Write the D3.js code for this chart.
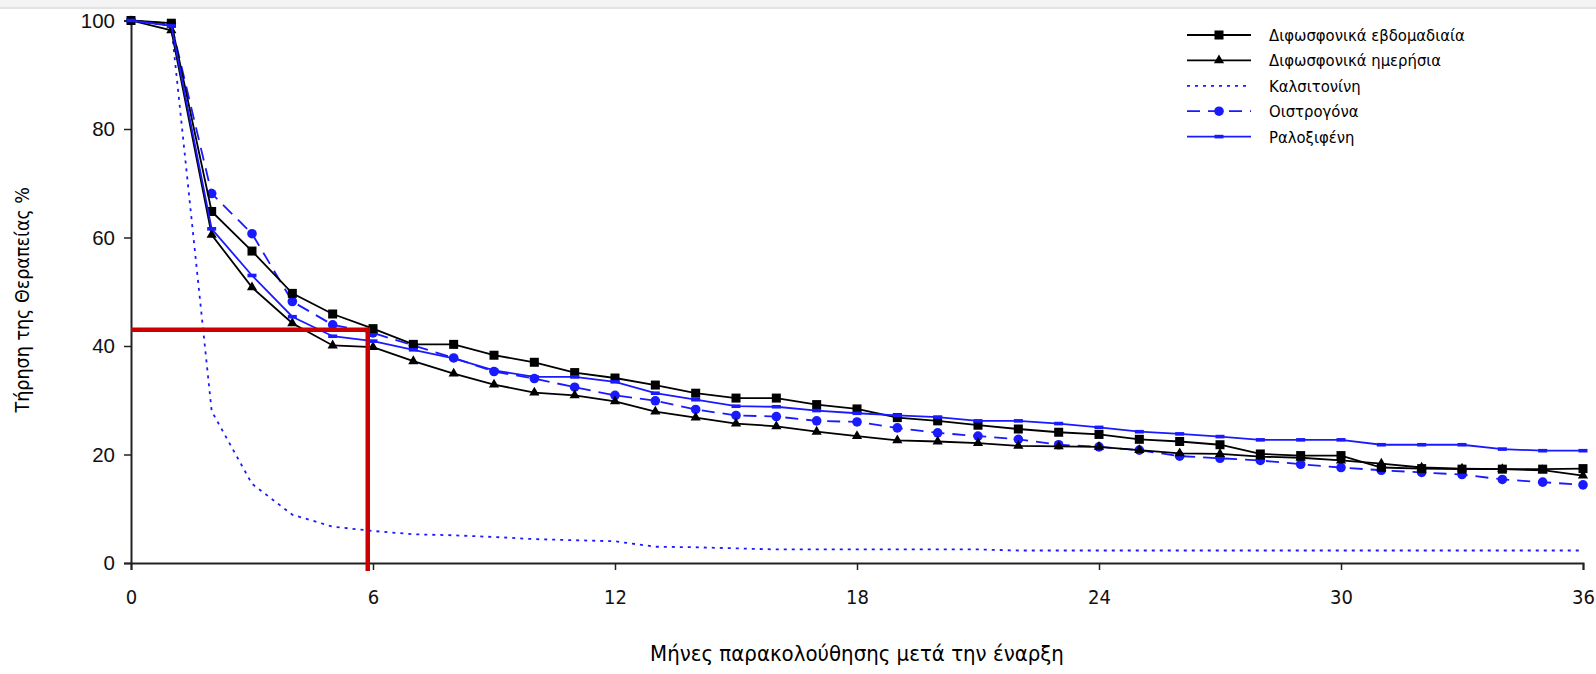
<!DOCTYPE html>
<html>
<head>
<meta charset="utf-8">
<script src="https://cdn.jsdelivr.net/npm/d3@7"></script>
<style>
  body { margin: 0; background: #fff; }
  svg { display: block; }
</style>
</head>
<body>
<script>
// months 0..36
var months = d3.range(0, 37);

var weekly = [100, 99.5, 64.8, 57.5, 49.7, 45.9, 43.2, 40.3, 40.3, 38.3, 37.0, 35.1, 34.1, 32.8, 31.3, 30.4, 30.4, 29.2, 28.4, 26.8, 26.2, 25.4, 24.7, 24.1, 23.7, 22.8, 22.4, 21.8, 20.1, 19.8, 19.8, 17.6, 17.4, 17.3, 17.3, 17.3, 17.4];
var daily = [100, 98.2, 60.5, 50.8, 44.2, 40.1, 39.8, 37.2, 34.9, 32.9, 31.4, 30.9, 29.8, 27.9, 26.8, 25.7, 25.2, 24.2, 23.4, 22.6, 22.4, 22.1, 21.6, 21.5, 21.4, 20.8, 20.2, 20.1, 19.6, 19.4, 18.9, 18.3, 17.6, 17.4, 17.3, 17.1, 16.1];
var calcitonin = [100, 99.0, 28.0, 14.6, 8.9, 6.7, 5.9, 5.3, 5.1, 4.8, 4.4, 4.2, 4.0, 3.0, 2.9, 2.7, 2.5, 2.5, 2.5, 2.5, 2.5, 2.5, 2.3, 2.3, 2.3, 2.3, 2.3, 2.3, 2.3, 2.3, 2.3, 2.3, 2.3, 2.3, 2.3, 2.3, 2.3];
var estrogen = [100, 99.4, 68.1, 60.7, 48.2, 43.9, 42.4, 40.1, 37.8, 35.3, 34.0, 32.4, 30.9, 29.9, 28.3, 27.2, 27.0, 26.2, 26.0, 24.9, 24.0, 23.4, 22.8, 21.8, 21.4, 20.8, 19.7, 19.3, 18.9, 18.2, 17.6, 17.1, 16.7, 16.3, 15.4, 14.9, 14.4];
var raloxifene = [100, 99.0, 61.6, 53.0, 45.4, 41.8, 40.9, 39.3, 37.7, 35.5, 34.3, 34.3, 33.4, 31.3, 30.1, 28.9, 28.8, 28.1, 27.6, 27.2, 26.9, 26.2, 26.2, 25.7, 25.0, 24.2, 23.8, 23.3, 22.7, 22.7, 22.7, 21.8, 21.8, 21.8, 21.0, 20.7, 20.7];

var seriesNames = ['Διφωσφονικά εβδομαδιαία', 'Διφωσφονικά ημερήσια', 'Καλσιτονίνη', 'Οιστρογόνα', 'Ραλοξιφένη'];
var xTicks = [0, 6, 12, 18, 24, 30, 36];
var yTicks = [0, 20, 40, 60, 80, 100];
// hand-drawn red guide (approx. 6 months, 43%)
var markMonth = 5.87, markValue = 43;

var series = [
    { name: seriesNames[0], values: weekly, color: '#000', dash: null, marker: 'square' },
    { name: seriesNames[1], values: daily, color: '#000', dash: null, marker: 'triangle' },
    { name: seriesNames[2], values: calcitonin, color: '#1a1aff', dash: '3,5', marker: 'none' },
    { name: seriesNames[3], values: estrogen, color: '#1a1aff', dash: '13,8', marker: 'circle' },
    { name: seriesNames[4], values: raloxifene, color: '#1a1aff', dash: null, marker: 'bar' }
];

var svgWidth = 1596, svgHeight = 674;
var titleFont = 'DejaVu Sans Condensed, DejaVu Sans, sans-serif';

var xScale = d3.scaleLinear().domain([0, 36]).range([131, 1583]);
var yScale = d3.scaleLinear().domain([0, 100]).range([563, 20.5]);

var svg = d3.select('body')
    .append('svg')
    .attr('width', svgWidth)
    .attr('height', svgHeight);

// grey strip at the very top
svg.append('rect').attr('x', 0).attr('y', 0).attr('width', svgWidth).attr('height', 8).attr('fill', '#f3f3f3');
svg.append('line').attr('x1', 0).attr('x2', svgWidth).attr('y1', 8).attr('y2', 8)
    .attr('stroke', '#e2e2e2').attr('stroke-width', 2);

// axes
var yAxis = d3.axisLeft(yScale).tickValues(yTicks).tickSize(7).tickPadding(9);
var xAxis = d3.axisBottom(xScale).tickValues(xTicks).tickSize(7).tickPadding(20);

var gy = svg.append('g').attr('transform', 'translate(131,0)').call(yAxis);
gy.selectAll('text').attr('font-family', 'Liberation Sans, Arial, sans-serif').attr('font-size', 20.5).attr('fill', '#111');

var gx = svg.append('g').attr('transform', 'translate(0,563)').call(xAxis);
gx.selectAll('text').attr('font-family', 'Liberation Sans Narrow, DejaVu Sans Condensed, sans-serif').attr('font-size', 20).attr('fill', '#111');

svg.selectAll('.domain').attr('stroke', '#222').attr('stroke-width', 2);
svg.selectAll('.tick line').attr('stroke', '#222').attr('stroke-width', 1.5);

// axis titles
svg.append('text')
    .attr('transform', 'translate(29,' + (yScale(50) + 8) + ') rotate(-90)')
    .attr('text-anchor', 'middle')
    .attr('font-family', titleFont)
    .attr('font-size', 19.5)
    .text('Τήρηση της Θεραπείας %');

svg.append('text')
    .attr('x', (xScale(0) + xScale(36)) / 2)
    .attr('y', 661)
    .attr('text-anchor', 'middle')
    .attr('font-family', titleFont)
    .attr('font-size', 22)
    .text('Μήνες παρακολούθησης μετά την έναρξη');

// lines
var line = d3.line()
    .x(function(d, i) { return xScale(months[i]); })
    .y(function(d) { return yScale(d); });

function drawMarkers(g, s, pts) {
    if (s.marker === 'square') {
        g.selectAll('rect').data(pts).enter().append('rect')
            .attr('x', function(d) { return d[0] - 4.5; })
            .attr('y', function(d) { return d[1] - 4.5; })
            .attr('width', 9).attr('height', 9).attr('fill', s.color);
    } else if (s.marker === 'triangle') {
        g.selectAll('path').data(pts).enter().append('path')
            .attr('d', d3.symbol().type(d3.symbolTriangle).size(45))
            .attr('transform', function(d) { return 'translate(' + d[0] + ',' + d[1] + ')'; })
            .attr('fill', s.color);
    } else if (s.marker === 'circle') {
        g.selectAll('circle').data(pts).enter().append('circle')
            .attr('cx', function(d) { return d[0]; })
            .attr('cy', function(d) { return d[1]; })
            .attr('r', 4.8).attr('fill', s.color);
    } else if (s.marker === 'bar') {
        g.selectAll('rect').data(pts).enter().append('rect')
            .attr('x', function(d) { return d[0] - 4.5; })
            .attr('y', function(d) { return d[1] - 1.8; })
            .attr('width', 9).attr('height', 3.6).attr('fill', s.color);
    }
}

// draw back to front: calcitonin, estrogen, daily, weekly, raloxifene
[2, 3, 1, 0, 4].forEach(function(idx) {
    var s = series[idx];
    var g = svg.append('g');
    g.append('path')
        .datum(s.values)
        .attr('d', line)
        .attr('fill', 'none')
        .attr('stroke', s.color)
        .attr('stroke-width', 1.8)
        .attr('stroke-dasharray', s.dash);
    var pts = s.values.map(function(v, i) { return [xScale(months[i]), yScale(v)]; });
    drawMarkers(g, s, pts);
});

// red guide lines
svg.append('line')
    .attr('x1', xScale(0)).attr('x2', xScale(markMonth) + 2)
    .attr('y1', yScale(markValue)).attr('y2', yScale(markValue))
    .attr('stroke', '#cc0000').attr('stroke-width', 4.5);
svg.append('line')
    .attr('x1', xScale(markMonth)).attr('x2', xScale(markMonth))
    .attr('y1', yScale(markValue) - 2).attr('y2', yScale(0) + 8)
    .attr('stroke', '#cc0000').attr('stroke-width', 4.5);

// legend
var legend = svg.append('g').attr('transform', 'translate(1187,35)');
series.forEach(function(s, i) {
    var row = legend.append('g').attr('transform', 'translate(0,' + (i * 25.4) + ')');
    row.append('line')
        .attr('x1', 0).attr('x2', 64).attr('y1', 0).attr('y2', 0)
        .attr('stroke', s.color).attr('stroke-width', 1.8)
        .attr('stroke-dasharray', s.dash);
    drawMarkers(row, s, [[32, 0]]);
    row.append('text')
        .attr('x', 82).attr('y', 6)
        .attr('font-family', titleFont)
        .attr('font-size', 16.5)
        .text(s.name);
});
</script>
</body>
</html>
